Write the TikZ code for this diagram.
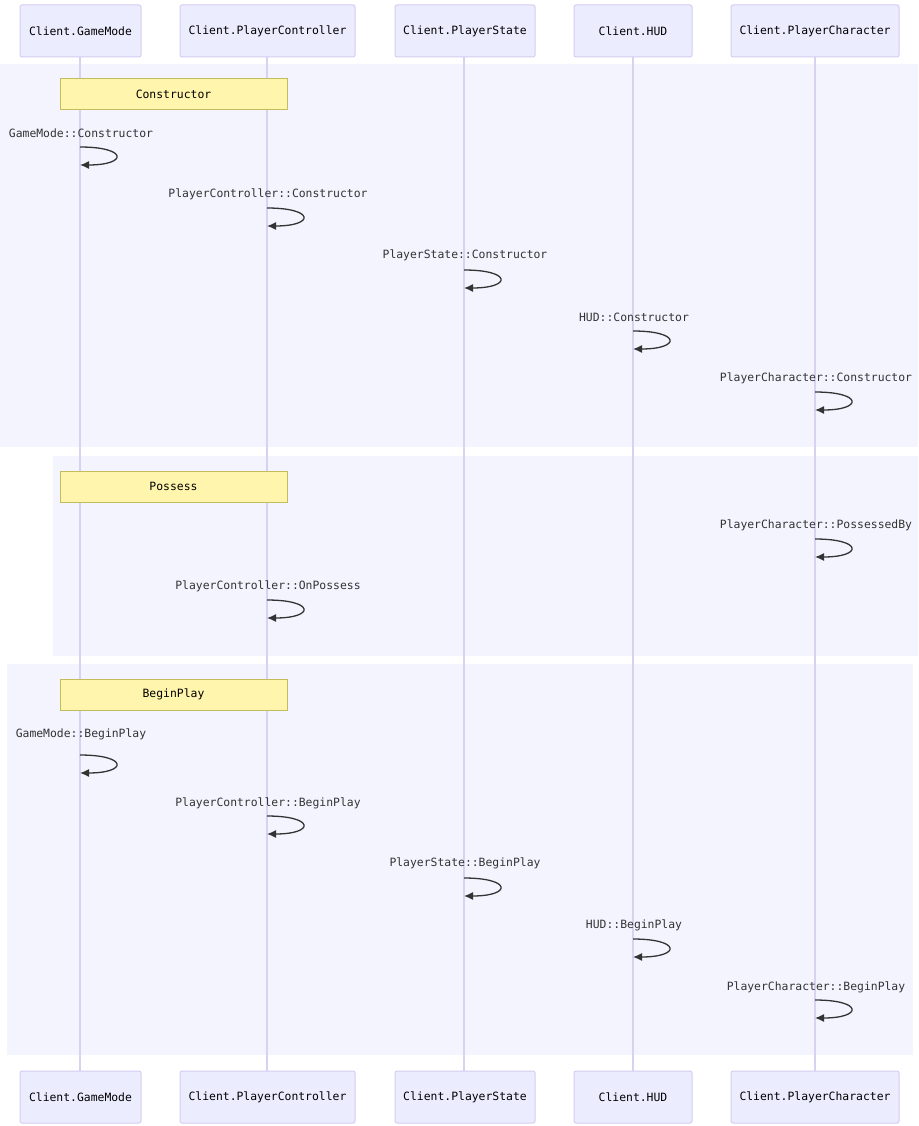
\documentclass[tikz,border=0pt]{standalone}
\usepackage{fontspec}
\newfontfamily\monof{DejaVu Sans Mono}
\usetikzlibrary{arrows.meta}
\definecolor{actfill}{HTML}{ECECFF}
\definecolor{actline}{HTML}{D6CCF2}
\definecolor{lifecol}{HTML}{D9D0F2}
\definecolor{rectbg}{HTML}{F4F4FF}
\definecolor{notefill}{HTML}{FFF5AD}
\definecolor{noteline}{HTML}{C2BC5C}
\definecolor{txt}{HTML}{333333}
\tikzset{
  actor/.style={draw=actline, fill=actfill, line width=1pt, rounded corners=2pt, inner sep=0pt, font=\monof\fontsize{11.4}{13}\selectfont, text=black},
  notebox/.style={draw=noteline, fill=notefill, line width=1pt, inner sep=0pt, minimum width=227pt, minimum height=31pt, font=\monof\fontsize{11.4}{13}\selectfont, text=black},
  lbl/.style={font=\monof\fontsize{11.4}{13}\selectfont, text=txt, inner sep=0pt},
  life/.style={draw=lifecol, line width=1.5pt},
  msg/.style={draw=txt, line width=1.3pt, -{Latex[length=9pt,width=8pt]}},
  block/.style={fill=rectbg, draw=none}
}
\begin{document}
\begin{tikzpicture}[x=1pt,y=-1pt]
\useasboundingbox[fill=white] (0,0) rectangle (918,1126);
% blocks
\fill[block] (0,64) rectangle (918,447);
\fill[block] (53,456) rectangle (918,656);
\fill[block] (7,664) rectangle (913,1055);
% actors top
\node[actor, minimum width=121pt, minimum height=52pt] (gmT) at (80.5,31) {Client.GameMode};
\node[actor, minimum width=175pt, minimum height=52pt] (pcT) at (267.5,31) {Client.PlayerController};
\node[actor, minimum width=140pt, minimum height=52pt] (psT) at (465,31) {Client.PlayerState};
\node[actor, minimum width=118pt, minimum height=52pt] (hudT) at (633,31) {Client.HUD};
\node[actor, minimum width=168pt, minimum height=52pt] (chT) at (815,31) {Client.PlayerCharacter};
% actors bottom
\node[actor, minimum width=121pt, minimum height=52pt] (gmB) at (80.5,1097) {Client.GameMode};
\node[actor, minimum width=175pt, minimum height=52pt] (pcB) at (267.5,1097) {Client.PlayerController};
\node[actor, minimum width=140pt, minimum height=52pt] (psB) at (465,1097) {Client.PlayerState};
\node[actor, minimum width=118pt, minimum height=52pt] (hudB) at (633,1097) {Client.HUD};
\node[actor, minimum width=168pt, minimum height=52pt] (chB) at (815,1097) {Client.PlayerCharacter};
% lifelines
\draw[life] (80,57) -- (80,1071);
\draw[life] (267,57) -- (267,1071);
\draw[life] (464,57) -- (464,1071);
\draw[life] (633,57) -- (633,1071);
\draw[life] (815,57) -- (815,1071);
% notes
\node[notebox] (n1) at (173.5,94.5) {Constructor};
\node[notebox] (n2) at (173.5,486.5) {Possess};
\node[notebox] (n3) at (173.5,694.5) {BeginPlay};
% self messages
\newcommand{\selfmsg}[5]{%
  \node[lbl] (#5l) at (#1+1,#2) {#4};
  \coordinate (#5s) at (#1,#3);
  \coordinate (#5e) at (#1,#3+18);
  \draw[msg] (#5s) .. controls +(48,0) and +(48,0) .. (#5e);
}
\selfmsg{80}{133}{147}{GameMode::Constructor}{m1}
\selfmsg{267}{194}{208}{PlayerController::Constructor}{m2}
\selfmsg{464}{255}{270}{PlayerState::Constructor}{m3}
\selfmsg{633}{317}{331}{HUD::Constructor}{m4}
\selfmsg{815}{378}{392}{PlayerCharacter::Constructor}{m5}
\selfmsg{815}{525}{539}{PlayerCharacter::PossessedBy}{m6}
\selfmsg{267}{586}{600}{PlayerController::OnPossess}{m7}
\selfmsg{80}{734}{755}{GameMode::BeginPlay}{m8}
\selfmsg{267}{803}{816}{PlayerController::BeginPlay}{m9}
\selfmsg{464}{863}{878}{PlayerState::BeginPlay}{m10}
\selfmsg{633}{925}{939}{HUD::BeginPlay}{m11}
\selfmsg{815}{987}{1000}{PlayerCharacter::BeginPlay}{m12}
\end{tikzpicture}
\end{document}
